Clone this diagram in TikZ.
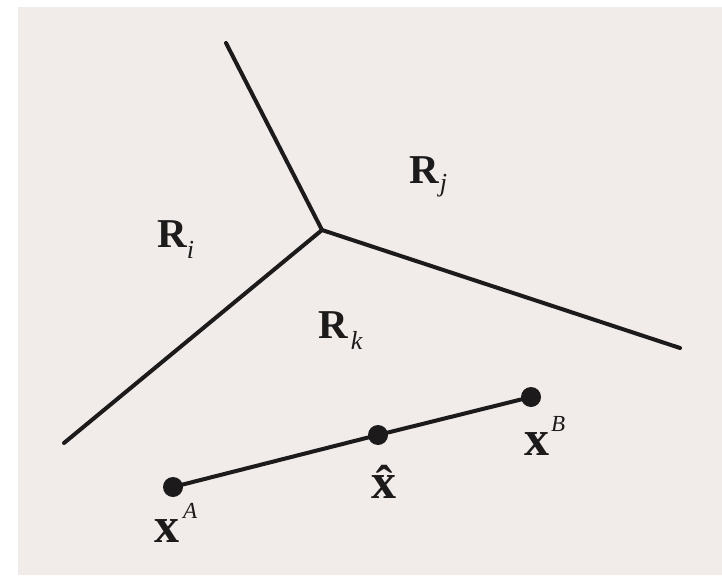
\documentclass[tikz,border=0pt]{standalone}
\usepackage{fontspec}
\setmainfont{Liberation Serif}
\definecolor{paper}{RGB}{241,235,234}
\definecolor{ink}{RGB}{28,26,26}
\tikzset{
  border/.style={ink,line width=4pt,line cap=round,line join=round},
  pt/.style={circle,fill=ink,inner sep=0pt,minimum size=20pt},
  rlbl/.style={anchor=base west,inner sep=0pt,text=ink,font=\bfseries\fontsize{41}{44}\selectfont},
  xlbl/.style={anchor=base west,inner sep=0pt,text=ink,font=\bfseries\fontsize{50}{52}\selectfont}
}
\newcommand{\sublbl}[1]{\raisebox{-11pt}{\fontsize{26}{28}\selectfont\mdseries\itshape #1}}
\newcommand{\suplbl}[1]{\raisebox{24pt}{\fontsize{23}{25}\selectfont\mdseries\itshape #1}}
\begin{document}
\begin{tikzpicture}[x=1pt,y=-1pt]
\path[use as bounding box] (0,0) rectangle (722,575);
\fill[white] (0,0) rectangle (722,575);
\fill[paper] (18,7) rectangle (722,575);
\coordinate (ctr) at (322,230);
\coordinate (top) at (226,43);
\coordinate (right) at (680,348);
\coordinate (left) at (64,443);
\draw[border] (top)--(ctr)--(right) (ctr)--(left);
\node[rlbl] (ri) at (157,247) {R\sublbl{i}};
\node[rlbl] (rj) at (409,183) {R\hspace{1pt}\raisebox{3pt}{\sublbl{j}}};
\node[rlbl] (rk) at (318,338) {R\hspace{3pt}\sublbl{k}};
\node[pt] (xa) at (173,487) {};
\node[pt] (xh) at (378,435) {};
\node[pt] (xb) at (531,397) {};
\draw[border] (xa)--(xh)--(xb);
\node[xlbl] (la) at (154,542) {x\hspace{4pt}\suplbl{A}};
\node[xlbl] (lh) at (371,498) {\^{x}};
\node[xlbl] (lb) at (524,455) {x\hspace{2pt}\suplbl{B}};
\end{tikzpicture}
\end{document}
